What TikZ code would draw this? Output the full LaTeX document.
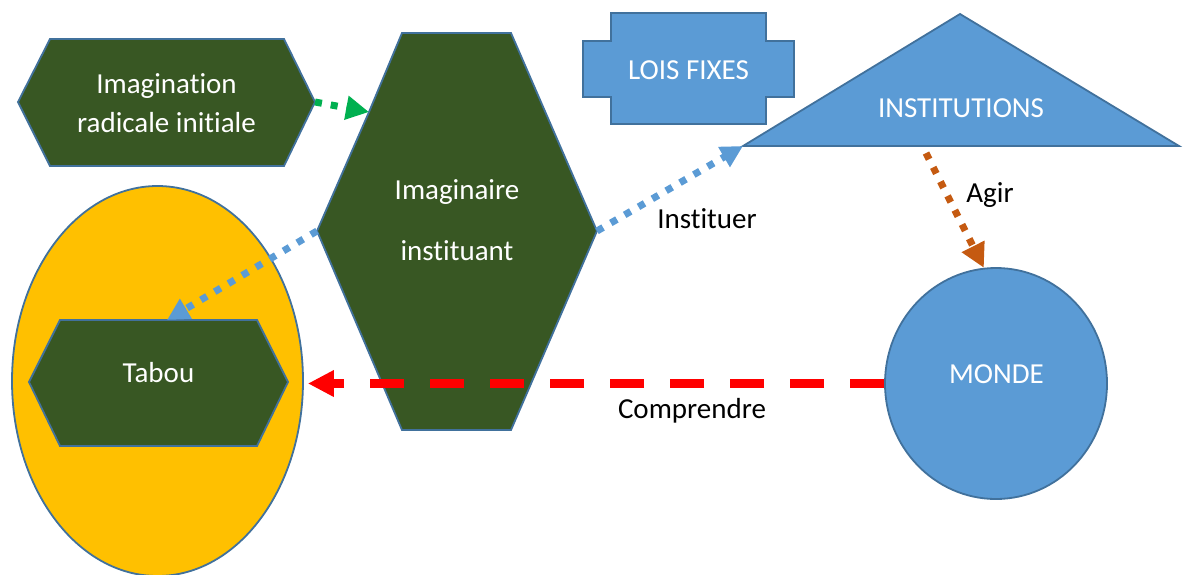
\documentclass[tikz,border=0pt]{standalone}
\usepackage{fontspec}
\setmainfont{Carlito}[Ligatures=NoCommon]
\definecolor{hexgreen}{RGB}{56, 87, 35}
\definecolor{edgeblue}{RGB}{65, 113, 156}
\definecolor{fillblue}{RGB}{91, 155, 213}
\definecolor{eggyellow}{RGB}{255, 192, 0}
\definecolor{agirorange}{RGB}{197, 90, 17}
\definecolor{arrowgreen}{RGB}{0, 176, 80}
\usetikzlibrary{shapes.geometric, arrows.meta, positioning, calc}
\tikzset{
  shapebox/.style={draw=edgeblue, line width=1.8pt, line join=miter},
  boxtext/.style={text=white, font=\fontsize{29}{39}\selectfont, align=center, inner sep=0pt},
  labeltext/.style={text=black, font=\fontsize{29}{39}\selectfont, inner sep=0pt},
  dotline/.style={line width=7pt, dash pattern=on 7pt off 9pt},
}

\begin{document}
\begin{tikzpicture}[x=1pt, y=-1pt]
  \useasboundingbox (0,0) rectangle (1185,574);

  \node[ellipse, shapebox, fill=eggyellow, minimum width=291pt, minimum height=390pt] (egg) at (157.5,381) {};
  \draw[shapebox, fill=hexgreen] (29,382) -- (60,320) -- (167,320) coordinate (tabouN) -- (257,320) -- (288,382) -- (257,446) -- (60,446) -- cycle;
  \node[boxtext, anchor=base] (tabou) at (158.5,382) {Tabou};

  \draw[shapebox, fill=hexgreen] (18,102) -- (50,39) -- (284,39) -- (315,102) coordinate (imaginationE) -- (284,166) -- (50,166) -- cycle;
  \node[boxtext] (imagination) at (166.5,103) {Imagination\\radicale initiale};

  \draw[shapebox, fill=hexgreen] (317,231) coordinate (imaginaireW) -- (369,112) coordinate (imaginaireNW) -- (402,33) -- (511,33) -- (597,231) coordinate (imaginaireE) -- (511,430) -- (402,430) -- cycle;
  \node[boxtext] (imaginaire) at (457,220) {Imaginaire\\[22pt]instituant};

  \draw[shapebox, fill=fillblue] (611,13) -- (766,13) -- (766,41) -- (794,41) -- (794,97) -- (766,97) -- (766,124) -- (611,124) -- (611,97) -- (583,97) -- (583,41) -- (611,41) -- cycle;
  \node[boxtext, anchor=base] (lois) at (688.5,79) {LOIS FIXES};

  \draw[shapebox, fill=fillblue] (743,146) coordinate (institutionsW) -- (1179,146) -- (960,14) -- cycle;
  \node[boxtext, anchor=base] (institutions) at (961,117) {INSTITUTIONS};
  \coordinate (agirStart) at (926,153);

  \node[ellipse, shapebox, fill=fillblue, minimum width=222pt, minimum height=231pt] (monde) at (996,383.5) {};
  \node[boxtext, anchor=base] (mondetext) at (996.5,383) {MONDE};

  \draw[dotline, draw=arrowgreen, -{Triangle[length=23pt, width=23pt]}] (imaginationE) -- (imaginaireNW);
  \draw[dotline, draw=fillblue, -{Triangle[length=22pt, width=22pt]}] (imaginaireW) -- (tabouN);
  \draw[dotline, draw=fillblue, -{Triangle[length=22pt, width=22pt]}] (imaginaireE) -- (institutionsW);
  \draw[dotline, draw=agirorange, -{Triangle[length=24pt, width=24pt]}] (agirStart) -- (monde.96);
  \draw[line width=8.5pt, dash pattern=on 34pt off 26pt, draw=red, shorten >=4pt, -{Triangle[length=26pt, width=25pt]}] (monde.west) -- (monde.west -| egg.east);

  \node[labeltext, anchor=base] (instituer) at (707,228) {Instituer};
  \node[labeltext, anchor=base] (agir) at (990,202) {Agir};
  \node[labeltext, anchor=base] (comprendre) at (692,418) {Comprendre};
\end{tikzpicture}
\end{document}
